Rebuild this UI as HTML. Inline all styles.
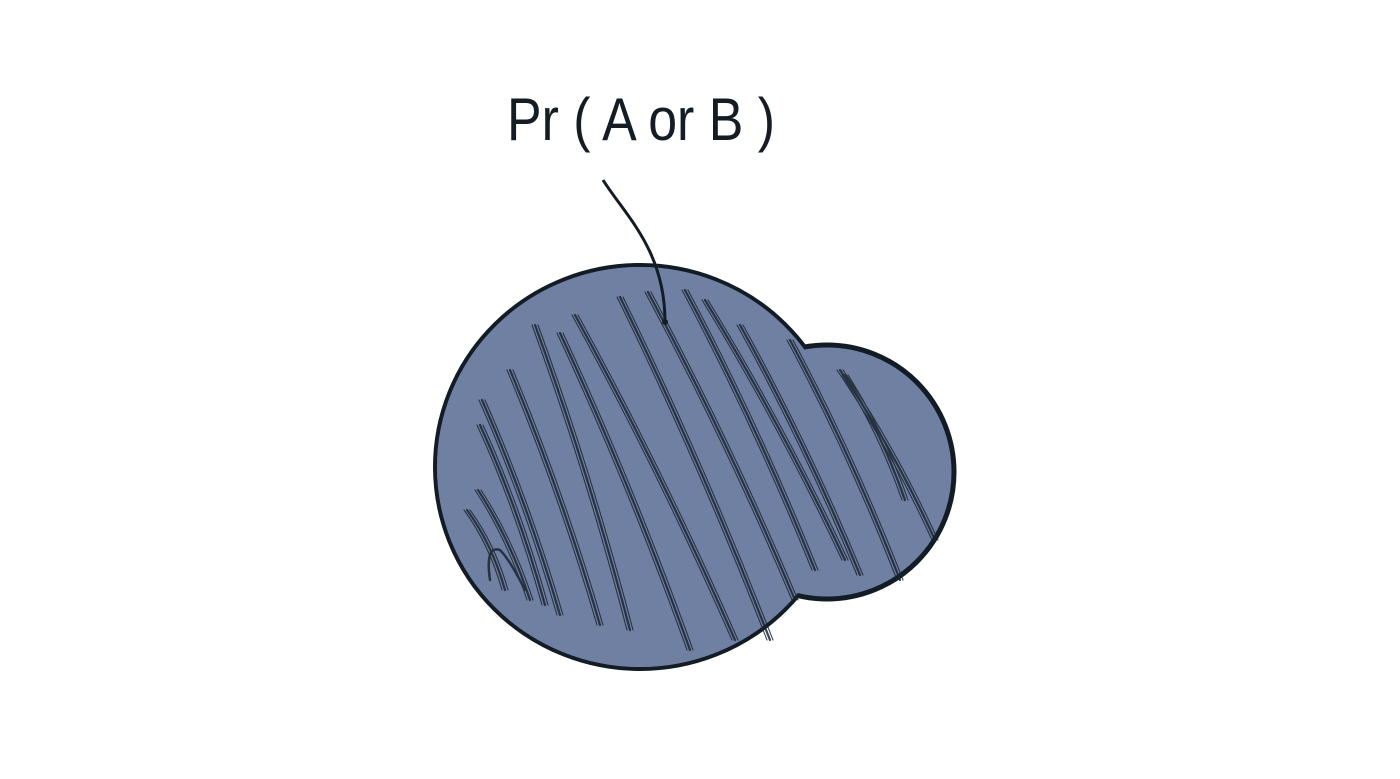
<!DOCTYPE html>
<html><head><meta charset="utf-8"><style>
html,body{margin:0;padding:0;background:#fff;width:1400px;height:779px;overflow:hidden}
svg{display:block}
</style></head><body>
<svg width="1400" height="779" viewBox="0 0 1400 779">
  <text x="507" y="140" font-family="Liberation Sans, sans-serif" font-size="60" fill="#141c24" textLength="268" lengthAdjust="spacingAndGlyphs">Pr ( A or B )</text>
  <g>
    <ellipse cx="640" cy="467" rx="205" ry="202" fill="#6f80a3" stroke="#121c24" stroke-width="4"/>
    <circle cx="827" cy="472" r="127" fill="#6f80a3" stroke="#121c24" stroke-width="5"/>
    <ellipse cx="640" cy="467" rx="203" ry="200" fill="#6f80a3"/>
  </g>
  <g id="hatch" fill="none" stroke="#1b2531" stroke-width="2" stroke-linecap="round" opacity="0.85"></g>
  <path d="M603 180 C 625 215, 665 250, 665 322" fill="none" stroke="#121c24" stroke-width="3"/>
  <circle cx="665" cy="322" r="3" fill="#121c24"/>
</svg>
<script>
const strokes=[[535,325,630,630],[560,333,690,650],[575,315,735,640],[620,297,770,640],[648,292,795,600],[685,290,815,570],[740,325,860,575],[790,340,900,580],[840,370,935,540],[845,375,905,500],[510,370,600,625],[482,400,560,615],[480,425,545,605],[478,490,530,600],[467,510,505,590],[705,300,845,560]];
const g=document.getElementById('hatch');
strokes.forEach((s,i)=>{
  for(let k=0;k<3;k++){
    const p=document.createElementNS('http://www.w3.org/2000/svg','path');
    const o=k*3-3;
    const mx=(s[0]+s[2])/2+6, my=(s[1]+s[3])/2-6;
    p.setAttribute('d',`M${s[0]+o} ${s[1]} Q${mx+o} ${my} ${s[2]+o} ${s[3]}`);
    p.setAttribute('stroke-width',k==1?2.2:1.1);
    
    
    g.appendChild(p);
  }
});
const hook=document.createElementNS('http://www.w3.org/2000/svg','path');
hook.setAttribute('d','M490 580 Q485 545 500 550 Q510 560 525 590');
hook.setAttribute('stroke-width','2.5');


g.appendChild(hook);
</script>
</body></html>
